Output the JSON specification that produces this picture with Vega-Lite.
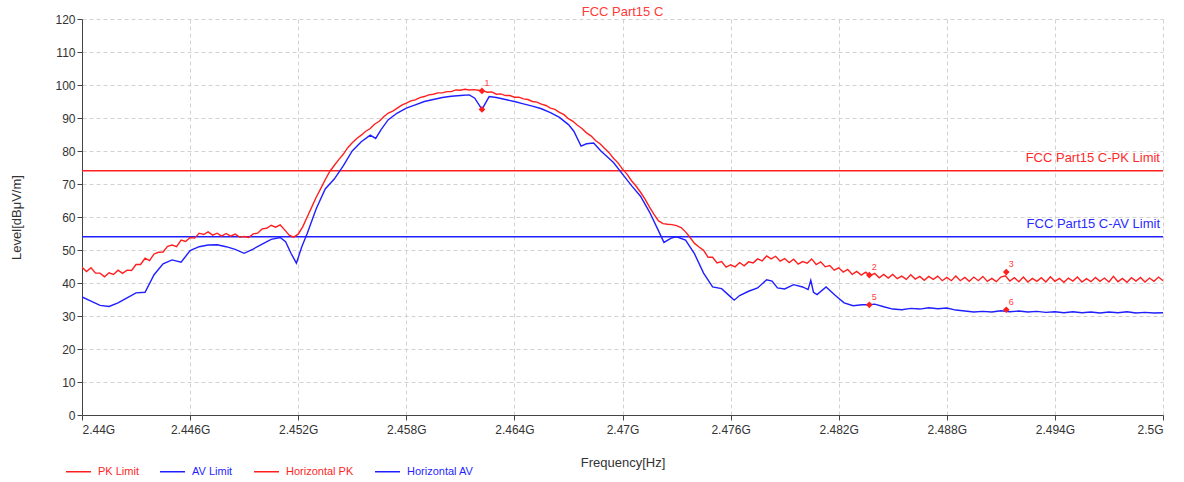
{
"$schema": "https://vega.github.io/schema/vega-lite/v6.json",
"width": 1081, "height": 396,
"autosize": {"type": "none"},
"padding": {"left": 82, "top": 19, "right": 21, "bottom": 67},
"background": "white",
"config": {"font": "Liberation Sans", "view": {"stroke": null}, "axis": {"labelOverlap": false}, "axisY": {"labelOverlap": false, "labelSeparation": 0}, "axisQuantitative": {"labelOverlap": false}},
"title": {"text": "FCC Part15 C", "color": "#ff3a3a", "fontSize": 13, "fontWeight": "normal", "anchor": "middle", "offset": 3, "dy": 9},
"datasets": {
"trace": [
{"series":"PK Limit","freq":2440,"level":74},{"series":"PK Limit","freq":2500,"level":74},
{"series":"AV Limit","freq":2440,"level":54},{"series":"AV Limit","freq":2500,"level":54},
{"series":"Horizontal PK","freq":2440,"level":44.8},{"series":"Horizontal PK","freq":2440.25,"level":43.5},{"series":"Horizontal PK","freq":2440.5,"level":44.6},{"series":"Horizontal PK","freq":2440.75,"level":43.0},{"series":"Horizontal PK","freq":2441,"level":43.0},{"series":"Horizontal PK","freq":2441.25,"level":41.9},{"series":"Horizontal PK","freq":2441.5,"level":43.1},{"series":"Horizontal PK","freq":2441.75,"level":42.6},{"series":"Horizontal PK","freq":2442,"level":43.9},{"series":"Horizontal PK","freq":2442.25,"level":42.9},{"series":"Horizontal PK","freq":2442.5,"level":43.9},{"series":"Horizontal PK","freq":2442.75,"level":43.8},{"series":"Horizontal PK","freq":2443,"level":45.6},{"series":"Horizontal PK","freq":2443.25,"level":45.6},{"series":"Horizontal PK","freq":2443.5,"level":47.5},{"series":"Horizontal PK","freq":2443.75,"level":46.8},{"series":"Horizontal PK","freq":2444,"level":48.8},{"series":"Horizontal PK","freq":2444.25,"level":49.3},{"series":"Horizontal PK","freq":2444.5,"level":49.4},{"series":"Horizontal PK","freq":2444.75,"level":51.1},{"series":"Horizontal PK","freq":2445,"level":51.5},{"series":"Horizontal PK","freq":2445.25,"level":51.0},{"series":"Horizontal PK","freq":2445.5,"level":53.0},{"series":"Horizontal PK","freq":2445.75,"level":52.6},{"series":"Horizontal PK","freq":2446,"level":53.8},{"series":"Horizontal PK","freq":2446.25,"level":53.6},{"series":"Horizontal PK","freq":2446.5,"level":55.1},{"series":"Horizontal PK","freq":2446.75,"level":54.7},{"series":"Horizontal PK","freq":2447,"level":55.5},{"series":"Horizontal PK","freq":2447.25,"level":54.5},{"series":"Horizontal PK","freq":2447.5,"level":55.1},{"series":"Horizontal PK","freq":2447.75,"level":54.2},{"series":"Horizontal PK","freq":2448,"level":55.0},{"series":"Horizontal PK","freq":2448.25,"level":54.2},{"series":"Horizontal PK","freq":2448.5,"level":54.8},{"series":"Horizontal PK","freq":2448.75,"level":53.9},{"series":"Horizontal PK","freq":2449,"level":54.1},{"series":"Horizontal PK","freq":2449.25,"level":53.8},{"series":"Horizontal PK","freq":2449.5,"level":54.9},{"series":"Horizontal PK","freq":2449.75,"level":55.1},{"series":"Horizontal PK","freq":2450,"level":56.4},{"series":"Horizontal PK","freq":2450.25,"level":56.6},{"series":"Horizontal PK","freq":2450.5,"level":57.5},{"series":"Horizontal PK","freq":2450.75,"level":56.9},{"series":"Horizontal PK","freq":2451,"level":57.6},{"series":"Horizontal PK","freq":2451.25,"level":56.1},{"series":"Horizontal PK","freq":2451.5,"level":54.5},{"series":"Horizontal PK","freq":2451.75,"level":53.9},{"series":"Horizontal PK","freq":2452,"level":54.8},{"series":"Horizontal PK","freq":2452.25,"level":57.0},{"series":"Horizontal PK","freq":2452.5,"level":60.0},{"series":"Horizontal PK","freq":2452.75,"level":63.0},{"series":"Horizontal PK","freq":2453,"level":66.0},{"series":"Horizontal PK","freq":2453.25,"level":68.6},{"series":"Horizontal PK","freq":2453.5,"level":71.3},{"series":"Horizontal PK","freq":2453.75,"level":73.8},{"series":"Horizontal PK","freq":2454,"level":75.6},{"series":"Horizontal PK","freq":2454.25,"level":77.4},{"series":"Horizontal PK","freq":2454.5,"level":79.0},{"series":"Horizontal PK","freq":2454.75,"level":81.0},{"series":"Horizontal PK","freq":2455,"level":82.5},{"series":"Horizontal PK","freq":2455.25,"level":83.8},{"series":"Horizontal PK","freq":2455.5,"level":84.8},{"series":"Horizontal PK","freq":2455.75,"level":86.0},{"series":"Horizontal PK","freq":2456,"level":86.8},{"series":"Horizontal PK","freq":2456.25,"level":88.2},{"series":"Horizontal PK","freq":2456.5,"level":89.0},{"series":"Horizontal PK","freq":2456.75,"level":90.4},{"series":"Horizontal PK","freq":2457,"level":91.5},{"series":"Horizontal PK","freq":2457.25,"level":92.1},{"series":"Horizontal PK","freq":2457.5,"level":93.0},{"series":"Horizontal PK","freq":2457.75,"level":93.9},{"series":"Horizontal PK","freq":2458,"level":94.5},{"series":"Horizontal PK","freq":2458.25,"level":95.2},{"series":"Horizontal PK","freq":2458.5,"level":95.5},{"series":"Horizontal PK","freq":2458.75,"level":96.2},{"series":"Horizontal PK","freq":2459,"level":96.5},{"series":"Horizontal PK","freq":2459.25,"level":97.0},{"series":"Horizontal PK","freq":2459.5,"level":97.2},{"series":"Horizontal PK","freq":2459.75,"level":97.6},{"series":"Horizontal PK","freq":2460,"level":97.6},{"series":"Horizontal PK","freq":2460.25,"level":98.0},{"series":"Horizontal PK","freq":2460.5,"level":98.0},{"series":"Horizontal PK","freq":2460.75,"level":98.5},{"series":"Horizontal PK","freq":2461,"level":98.4},{"series":"Horizontal PK","freq":2461.25,"level":98.7},{"series":"Horizontal PK","freq":2461.5,"level":98.5},{"series":"Horizontal PK","freq":2461.75,"level":98.6},{"series":"Horizontal PK","freq":2462,"level":98.4},{"series":"Horizontal PK","freq":2462.25,"level":98.2},{"series":"Horizontal PK","freq":2462.5,"level":97.8},{"series":"Horizontal PK","freq":2462.75,"level":97.9},{"series":"Horizontal PK","freq":2463,"level":97.2},{"series":"Horizontal PK","freq":2463.25,"level":97.3},{"series":"Horizontal PK","freq":2463.5,"level":96.8},{"series":"Horizontal PK","freq":2463.75,"level":96.8},{"series":"Horizontal PK","freq":2464,"level":96.3},{"series":"Horizontal PK","freq":2464.25,"level":96.3},{"series":"Horizontal PK","freq":2464.5,"level":95.8},{"series":"Horizontal PK","freq":2464.75,"level":95.6},{"series":"Horizontal PK","freq":2465,"level":95.0},{"series":"Horizontal PK","freq":2465.25,"level":94.8},{"series":"Horizontal PK","freq":2465.5,"level":94.2},{"series":"Horizontal PK","freq":2465.75,"level":93.8},{"series":"Horizontal PK","freq":2466,"level":93.0},{"series":"Horizontal PK","freq":2466.25,"level":92.6},{"series":"Horizontal PK","freq":2466.5,"level":91.7},{"series":"Horizontal PK","freq":2466.75,"level":91.0},{"series":"Horizontal PK","freq":2467,"level":89.8},{"series":"Horizontal PK","freq":2467.25,"level":89.0},{"series":"Horizontal PK","freq":2467.5,"level":87.8},{"series":"Horizontal PK","freq":2467.75,"level":86.8},{"series":"Horizontal PK","freq":2468,"level":85.5},{"series":"Horizontal PK","freq":2468.25,"level":84.6},{"series":"Horizontal PK","freq":2468.5,"level":83.2},{"series":"Horizontal PK","freq":2468.75,"level":82.2},{"series":"Horizontal PK","freq":2469,"level":80.8},{"series":"Horizontal PK","freq":2469.25,"level":79.5},{"series":"Horizontal PK","freq":2469.5,"level":77.8},{"series":"Horizontal PK","freq":2469.75,"level":76.4},{"series":"Horizontal PK","freq":2470,"level":74.5},{"series":"Horizontal PK","freq":2470.25,"level":73.0},{"series":"Horizontal PK","freq":2470.5,"level":71.0},{"series":"Horizontal PK","freq":2470.75,"level":69.4},{"series":"Horizontal PK","freq":2471,"level":67.5},{"series":"Horizontal PK","freq":2471.25,"level":65.4},{"series":"Horizontal PK","freq":2471.5,"level":63.0},{"series":"Horizontal PK","freq":2471.75,"level":60.8},{"series":"Horizontal PK","freq":2472,"level":58.8},{"series":"Horizontal PK","freq":2472.25,"level":58.0},{"series":"Horizontal PK","freq":2472.5,"level":57.8},{"series":"Horizontal PK","freq":2472.75,"level":57.7},{"series":"Horizontal PK","freq":2473,"level":57.4},{"series":"Horizontal PK","freq":2473.25,"level":56.8},{"series":"Horizontal PK","freq":2473.5,"level":55.5},{"series":"Horizontal PK","freq":2473.75,"level":53.8},{"series":"Horizontal PK","freq":2474,"level":52.0},{"series":"Horizontal PK","freq":2474.25,"level":50.9},{"series":"Horizontal PK","freq":2474.5,"level":49.9},{"series":"Horizontal PK","freq":2474.75,"level":47.8},{"series":"Horizontal PK","freq":2475,"level":47.8},{"series":"Horizontal PK","freq":2475.25,"level":46.1},{"series":"Horizontal PK","freq":2475.5,"level":46.5},{"series":"Horizontal PK","freq":2475.75,"level":44.8},{"series":"Horizontal PK","freq":2476,"level":45.5},{"series":"Horizontal PK","freq":2476.25,"level":44.9},{"series":"Horizontal PK","freq":2476.5,"level":46.2},{"series":"Horizontal PK","freq":2476.75,"level":45.2},{"series":"Horizontal PK","freq":2477,"level":46.4},{"series":"Horizontal PK","freq":2477.25,"level":46.1},{"series":"Horizontal PK","freq":2477.5,"level":47.3},{"series":"Horizontal PK","freq":2477.75,"level":46.7},{"series":"Horizontal PK","freq":2478,"level":48.2},{"series":"Horizontal PK","freq":2478.25,"level":47.3},{"series":"Horizontal PK","freq":2478.5,"level":48.1},{"series":"Horizontal PK","freq":2478.75,"level":46.6},{"series":"Horizontal PK","freq":2479,"level":47.4},{"series":"Horizontal PK","freq":2479.25,"level":46.2},{"series":"Horizontal PK","freq":2479.5,"level":47.2},{"series":"Horizontal PK","freq":2479.75,"level":45.7},{"series":"Horizontal PK","freq":2480,"level":46.5},{"series":"Horizontal PK","freq":2480.25,"level":46.0},{"series":"Horizontal PK","freq":2480.5,"level":47.3},{"series":"Horizontal PK","freq":2480.75,"level":45.6},{"series":"Horizontal PK","freq":2481,"level":46.4},{"series":"Horizontal PK","freq":2481.25,"level":44.9},{"series":"Horizontal PK","freq":2481.5,"level":45.3},{"series":"Horizontal PK","freq":2481.75,"level":43.9},{"series":"Horizontal PK","freq":2482,"level":44.6},{"series":"Horizontal PK","freq":2482.25,"level":43.3},{"series":"Horizontal PK","freq":2482.5,"level":44.1},{"series":"Horizontal PK","freq":2482.75,"level":42.6},{"series":"Horizontal PK","freq":2483,"level":43.5},{"series":"Horizontal PK","freq":2483.25,"level":42.4},{"series":"Horizontal PK","freq":2483.5,"level":43.3},{"series":"Horizontal PK","freq":2483.75,"level":42.2},{"series":"Horizontal PK","freq":2484,"level":42.9},{"series":"Horizontal PK","freq":2484.25,"level":41.6},{"series":"Horizontal PK","freq":2484.5,"level":42.6},{"series":"Horizontal PK","freq":2484.75,"level":41.5},{"series":"Horizontal PK","freq":2485,"level":42.6},{"series":"Horizontal PK","freq":2485.25,"level":41.3},{"series":"Horizontal PK","freq":2485.5,"level":42.1},{"series":"Horizontal PK","freq":2485.75,"level":41.1},{"series":"Horizontal PK","freq":2486,"level":42.5},{"series":"Horizontal PK","freq":2486.25,"level":41.2},{"series":"Horizontal PK","freq":2486.5,"level":42.0},{"series":"Horizontal PK","freq":2486.75,"level":40.8},{"series":"Horizontal PK","freq":2487,"level":42.0},{"series":"Horizontal PK","freq":2487.25,"level":41.1},{"series":"Horizontal PK","freq":2487.5,"level":42.1},{"series":"Horizontal PK","freq":2487.75,"level":40.7},{"series":"Horizontal PK","freq":2488,"level":41.7},{"series":"Horizontal PK","freq":2488.25,"level":40.7},{"series":"Horizontal PK","freq":2488.5,"level":42.1},{"series":"Horizontal PK","freq":2488.75,"level":40.7},{"series":"Horizontal PK","freq":2489,"level":41.7},{"series":"Horizontal PK","freq":2489.25,"level":40.5},{"series":"Horizontal PK","freq":2489.5,"level":41.8},{"series":"Horizontal PK","freq":2489.75,"level":40.7},{"series":"Horizontal PK","freq":2490,"level":42.0},{"series":"Horizontal PK","freq":2490.25,"level":40.5},{"series":"Horizontal PK","freq":2490.5,"level":41.4},{"series":"Horizontal PK","freq":2490.75,"level":40.4},{"series":"Horizontal PK","freq":2491,"level":41.8},{"series":"Horizontal PK","freq":2491.25,"level":42.2},{"series":"Horizontal PK","freq":2491.5,"level":40.6},{"series":"Horizontal PK","freq":2491.75,"level":41.6},{"series":"Horizontal PK","freq":2492,"level":40.4},{"series":"Horizontal PK","freq":2492.25,"level":41.8},{"series":"Horizontal PK","freq":2492.5,"level":40.3},{"series":"Horizontal PK","freq":2492.75,"level":41.4},{"series":"Horizontal PK","freq":2493,"level":40.5},{"series":"Horizontal PK","freq":2493.25,"level":41.6},{"series":"Horizontal PK","freq":2493.5,"level":40.3},{"series":"Horizontal PK","freq":2493.75,"level":41.9},{"series":"Horizontal PK","freq":2494,"level":40.5},{"series":"Horizontal PK","freq":2494.25,"level":41.4},{"series":"Horizontal PK","freq":2494.5,"level":40.2},{"series":"Horizontal PK","freq":2494.75,"level":41.5},{"series":"Horizontal PK","freq":2495,"level":40.6},{"series":"Horizontal PK","freq":2495.25,"level":41.8},{"series":"Horizontal PK","freq":2495.5,"level":40.3},{"series":"Horizontal PK","freq":2495.75,"level":41.3},{"series":"Horizontal PK","freq":2496,"level":40.4},{"series":"Horizontal PK","freq":2496.25,"level":41.7},{"series":"Horizontal PK","freq":2496.5,"level":40.5},{"series":"Horizontal PK","freq":2496.75,"level":41.5},{"series":"Horizontal PK","freq":2497,"level":40.3},{"series":"Horizontal PK","freq":2497.25,"level":42.0},{"series":"Horizontal PK","freq":2497.5,"level":40.4},{"series":"Horizontal PK","freq":2497.75,"level":41.4},{"series":"Horizontal PK","freq":2498,"level":40.2},{"series":"Horizontal PK","freq":2498.25,"level":41.6},{"series":"Horizontal PK","freq":2498.5,"level":40.6},{"series":"Horizontal PK","freq":2498.75,"level":41.7},{"series":"Horizontal PK","freq":2499,"level":40.3},{"series":"Horizontal PK","freq":2499.25,"level":41.5},{"series":"Horizontal PK","freq":2499.5,"level":40.5},{"series":"Horizontal PK","freq":2499.75,"level":41.8},{"series":"Horizontal PK","freq":2500,"level":40.7},
{"series":"Horizontal AV","freq":2440,"level":35.8},{"series":"Horizontal AV","freq":2440.5,"level":34.5},{"series":"Horizontal AV","freq":2441,"level":33.2},{"series":"Horizontal AV","freq":2441.5,"level":32.9},{"series":"Horizontal AV","freq":2442,"level":34.0},{"series":"Horizontal AV","freq":2442.5,"level":35.5},{"series":"Horizontal AV","freq":2443,"level":37.0},{"series":"Horizontal AV","freq":2443.5,"level":37.2},{"series":"Horizontal AV","freq":2444,"level":42.5},{"series":"Horizontal AV","freq":2444.5,"level":45.8},{"series":"Horizontal AV","freq":2445,"level":47.0},{"series":"Horizontal AV","freq":2445.5,"level":46.3},{"series":"Horizontal AV","freq":2446,"level":49.8},{"series":"Horizontal AV","freq":2446.5,"level":51.0},{"series":"Horizontal AV","freq":2447,"level":51.5},{"series":"Horizontal AV","freq":2447.5,"level":51.6},{"series":"Horizontal AV","freq":2448,"level":51.0},{"series":"Horizontal AV","freq":2448.5,"level":50.2},{"series":"Horizontal AV","freq":2449,"level":49.0},{"series":"Horizontal AV","freq":2449.5,"level":50.3},{"series":"Horizontal AV","freq":2450,"level":51.8},{"series":"Horizontal AV","freq":2450.5,"level":53.2},{"series":"Horizontal AV","freq":2451,"level":53.8},{"series":"Horizontal AV","freq":2451.3,"level":52.5},{"series":"Horizontal AV","freq":2451.6,"level":49.0},{"series":"Horizontal AV","freq":2451.9,"level":46.0},{"series":"Horizontal AV","freq":2452.2,"level":51.0},{"series":"Horizontal AV","freq":2452.5,"level":55.0},{"series":"Horizontal AV","freq":2453,"level":62.5},{"series":"Horizontal AV","freq":2453.5,"level":68.5},{"series":"Horizontal AV","freq":2454,"level":71.5},{"series":"Horizontal AV","freq":2454.5,"level":75.5},{"series":"Horizontal AV","freq":2455,"level":80.0},{"series":"Horizontal AV","freq":2455.5,"level":82.8},{"series":"Horizontal AV","freq":2456,"level":84.8},{"series":"Horizontal AV","freq":2456.3,"level":83.8},{"series":"Horizontal AV","freq":2456.6,"level":86.5},{"series":"Horizontal AV","freq":2457,"level":89.5},{"series":"Horizontal AV","freq":2457.5,"level":91.5},{"series":"Horizontal AV","freq":2458,"level":93.0},{"series":"Horizontal AV","freq":2458.5,"level":94.0},{"series":"Horizontal AV","freq":2459,"level":95.0},{"series":"Horizontal AV","freq":2459.5,"level":95.6},{"series":"Horizontal AV","freq":2460,"level":96.2},{"series":"Horizontal AV","freq":2460.5,"level":96.6},{"series":"Horizontal AV","freq":2461,"level":96.8},{"series":"Horizontal AV","freq":2461.5,"level":97.0},{"series":"Horizontal AV","freq":2461.8,"level":96.0},{"series":"Horizontal AV","freq":2462.2,"level":92.6},{"series":"Horizontal AV","freq":2462.6,"level":96.5},{"series":"Horizontal AV","freq":2463,"level":96.2},{"series":"Horizontal AV","freq":2463.5,"level":95.6},{"series":"Horizontal AV","freq":2464,"level":95.0},{"series":"Horizontal AV","freq":2464.5,"level":94.3},{"series":"Horizontal AV","freq":2465,"level":93.6},{"series":"Horizontal AV","freq":2465.5,"level":92.8},{"series":"Horizontal AV","freq":2466,"level":91.6},{"series":"Horizontal AV","freq":2466.5,"level":90.2},{"series":"Horizontal AV","freq":2467,"level":88.0},{"series":"Horizontal AV","freq":2467.3,"level":86.0},{"series":"Horizontal AV","freq":2467.7,"level":81.5},{"series":"Horizontal AV","freq":2468,"level":82.2},{"series":"Horizontal AV","freq":2468.4,"level":82.4},{"series":"Horizontal AV","freq":2468.8,"level":80.0},{"series":"Horizontal AV","freq":2469,"level":79.0},{"series":"Horizontal AV","freq":2469.5,"level":76.5},{"series":"Horizontal AV","freq":2470,"level":73.0},{"series":"Horizontal AV","freq":2470.5,"level":69.5},{"series":"Horizontal AV","freq":2471,"level":66.3},{"series":"Horizontal AV","freq":2471.5,"level":61.5},{"series":"Horizontal AV","freq":2472,"level":55.8},{"series":"Horizontal AV","freq":2472.3,"level":52.3},{"series":"Horizontal AV","freq":2472.7,"level":53.6},{"series":"Horizontal AV","freq":2473,"level":54.0},{"series":"Horizontal AV","freq":2473.5,"level":53.0},{"series":"Horizontal AV","freq":2474,"level":48.8},{"series":"Horizontal AV","freq":2474.5,"level":43.0},{"series":"Horizontal AV","freq":2475,"level":38.8},{"series":"Horizontal AV","freq":2475.5,"level":38.3},{"series":"Horizontal AV","freq":2476,"level":35.8},{"series":"Horizontal AV","freq":2476.2,"level":34.8},{"series":"Horizontal AV","freq":2476.5,"level":36.2},{"series":"Horizontal AV","freq":2477,"level":37.5},{"series":"Horizontal AV","freq":2477.5,"level":38.5},{"series":"Horizontal AV","freq":2478,"level":41.0},{"series":"Horizontal AV","freq":2478.3,"level":40.6},{"series":"Horizontal AV","freq":2478.6,"level":38.5},{"series":"Horizontal AV","freq":2479,"level":38.2},{"series":"Horizontal AV","freq":2479.5,"level":39.5},{"series":"Horizontal AV","freq":2480,"level":38.8},{"series":"Horizontal AV","freq":2480.3,"level":38.0},{"series":"Horizontal AV","freq":2480.45,"level":40.8},{"series":"Horizontal AV","freq":2480.6,"level":37.2},{"series":"Horizontal AV","freq":2480.8,"level":36.5},{"series":"Horizontal AV","freq":2481.3,"level":38.8},{"series":"Horizontal AV","freq":2481.8,"level":36.3},{"series":"Horizontal AV","freq":2482.3,"level":34.0},{"series":"Horizontal AV","freq":2482.8,"level":33.1},{"series":"Horizontal AV","freq":2483.3,"level":33.4},{"series":"Horizontal AV","freq":2483.7,"level":33.4},{"series":"Horizontal AV","freq":2484,"level":33.6},{"series":"Horizontal AV","freq":2484.5,"level":32.8},{"series":"Horizontal AV","freq":2485,"level":32.1},{"series":"Horizontal AV","freq":2485.5,"level":31.9},{"series":"Horizontal AV","freq":2486,"level":32.3},{"series":"Horizontal AV","freq":2486.5,"level":32.1},{"series":"Horizontal AV","freq":2487,"level":32.5},{"series":"Horizontal AV","freq":2487.5,"level":32.2},{"series":"Horizontal AV","freq":2488,"level":32.4},{"series":"Horizontal AV","freq":2488.5,"level":31.8},{"series":"Horizontal AV","freq":2489,"level":31.5},{"series":"Horizontal AV","freq":2489.5,"level":31.2},{"series":"Horizontal AV","freq":2490,"level":31.4},{"series":"Horizontal AV","freq":2490.5,"level":31.2},{"series":"Horizontal AV","freq":2491,"level":31.6},{"series":"Horizontal AV","freq":2491.5,"level":31.3},{"series":"Horizontal AV","freq":2492,"level":31.5},{"series":"Horizontal AV","freq":2492.5,"level":31.2},{"series":"Horizontal AV","freq":2493,"level":31.4},{"series":"Horizontal AV","freq":2493.5,"level":31.1},{"series":"Horizontal AV","freq":2494,"level":31.3},{"series":"Horizontal AV","freq":2494.5,"level":31.0},{"series":"Horizontal AV","freq":2495,"level":31.3},{"series":"Horizontal AV","freq":2495.5,"level":31.0},{"series":"Horizontal AV","freq":2496,"level":31.2},{"series":"Horizontal AV","freq":2496.5,"level":30.9},{"series":"Horizontal AV","freq":2497,"level":31.2},{"series":"Horizontal AV","freq":2497.5,"level":31.0},{"series":"Horizontal AV","freq":2498,"level":31.3},{"series":"Horizontal AV","freq":2498.5,"level":30.9},{"series":"Horizontal AV","freq":2499,"level":31.1},{"series":"Horizontal AV","freq":2499.5,"level":30.9},{"series":"Horizontal AV","freq":2500,"level":31.0}
],
"limitLabels": [
{"series":"PK Limit","freq":2500,"level":74,"label":"FCC Part15 C-PK Limit"},
{"series":"AV Limit","freq":2500,"level":54,"label":"FCC Part15 C-AV Limit"}
],
"markers": [
{"freq":2462.2,"level":98.2,"label":"1"},
{"freq":2462.2,"level":92.6,"label":""},
{"freq":2483.7,"level":42.4,"label":"2"},
{"freq":2491.3,"level":43.3,"label":"3"},
{"freq":2483.7,"level":33.4,"label":"5"},
{"freq":2491.3,"level":31.9,"label":"6"}
]
},
"encoding": {
"x": {"field": "freq", "type": "quantitative",
 "scale": {"domain": [2440, 2500], "nice": false, "zero": false},
 "axis": {"values": [2440,2446,2452,2458,2464,2470,2476,2482,2488,2494,2500],
  "labelExpr": "format(datum.value/1000,'.3~f')+'G'", "labelOverlap": false,
  "title": "Frequency[Hz]", "grid": true, "gridDash": [4,3], "gridColor": "#d2d2d2",
  "domainColor": "#444", "tickColor": "#444", "tickSize": 5,
  "labelFontSize": 12, "labelColor": "#333", "labelPadding": 4,
  "titleFontSize": 13, "titleFontWeight": "normal", "titleColor": "#333", "titlePadding": 21}},
"y": {"field": "level", "type": "quantitative",
 "scale": {"domain": [0, 120], "nice": false},
 "axis": {"values": [0,10,20,30,40,50,60,70,80,90,100,110,120], "labelOverlap": false, "labelBound": false, "labelFlush": false,
  "labelExpr": "format(datum.value,'d')",
  "title": "Level[dBμV/m]", "grid": true, "gridDash": [4,3], "gridColor": "#d2d2d2",
  "domainColor": "#444", "tickColor": "#444", "tickSize": 5,
  "labelFontSize": 12, "labelColor": "#333", "labelPadding": 2,
  "titleFontSize": 13, "titleFontWeight": "normal", "titleColor": "#333", "titlePadding": 31}}
},
"layer": [
{
"data": {"name": "trace"},
"mark": {"type": "line", "strokeWidth": 1.4, "clip": true},
"encoding": {
"color": {"field": "series", "type": "nominal",
 "scale": {"domain": ["PK Limit","AV Limit","Horizontal PK","Horizontal AV"], "range": ["#ff1f1f","#1f1fff","#ff1f1f","#1f1fff"]},
 "legend": {"title": null, "orient": "none", "legendX": -17, "legendY": 439, "direction": "horizontal",
  "symbolType": "stroke", "symbolSize": 625, "symbolStrokeWidth": 1.5,
  "labelFontSize": 11, "labelOffset": 6, "columnPadding": 18, "labelLimit": 300,
  "encode": {"labels": {"update": {"fill": {"scale": "color", "field": "value"}}}}}},
"strokeWidth": {"condition": {"test": "indexof(datum.series,'Limit')>=0", "value": 2}, "value": 1.3}
}
},
{
"data": {"name": "limitLabels"},
"mark": {"type": "text", "align": "right", "baseline": "alphabetic", "dx": -3, "dy": -9, "fontSize": 13},
"encoding": {
"text": {"field": "label"},
"color": {"condition": {"test": "datum.series==='PK Limit'", "value": "#ff2a2a"}, "value": "#2a2aff"}
}
},
{
"data": {"name": "markers"},
"mark": {"type": "point", "shape": "diamond", "filled": true, "color": "#ff1f1f", "size": 45, "opacity": 1},
"encoding": {}
},
{
"data": {"name": "markers"},
"mark": {"type": "text", "dx": 5, "dy": -8, "fontSize": 9, "color": "#ff4040", "align": "center"},
"encoding": {
"text": {"field": "label"}
}
}
]
}
